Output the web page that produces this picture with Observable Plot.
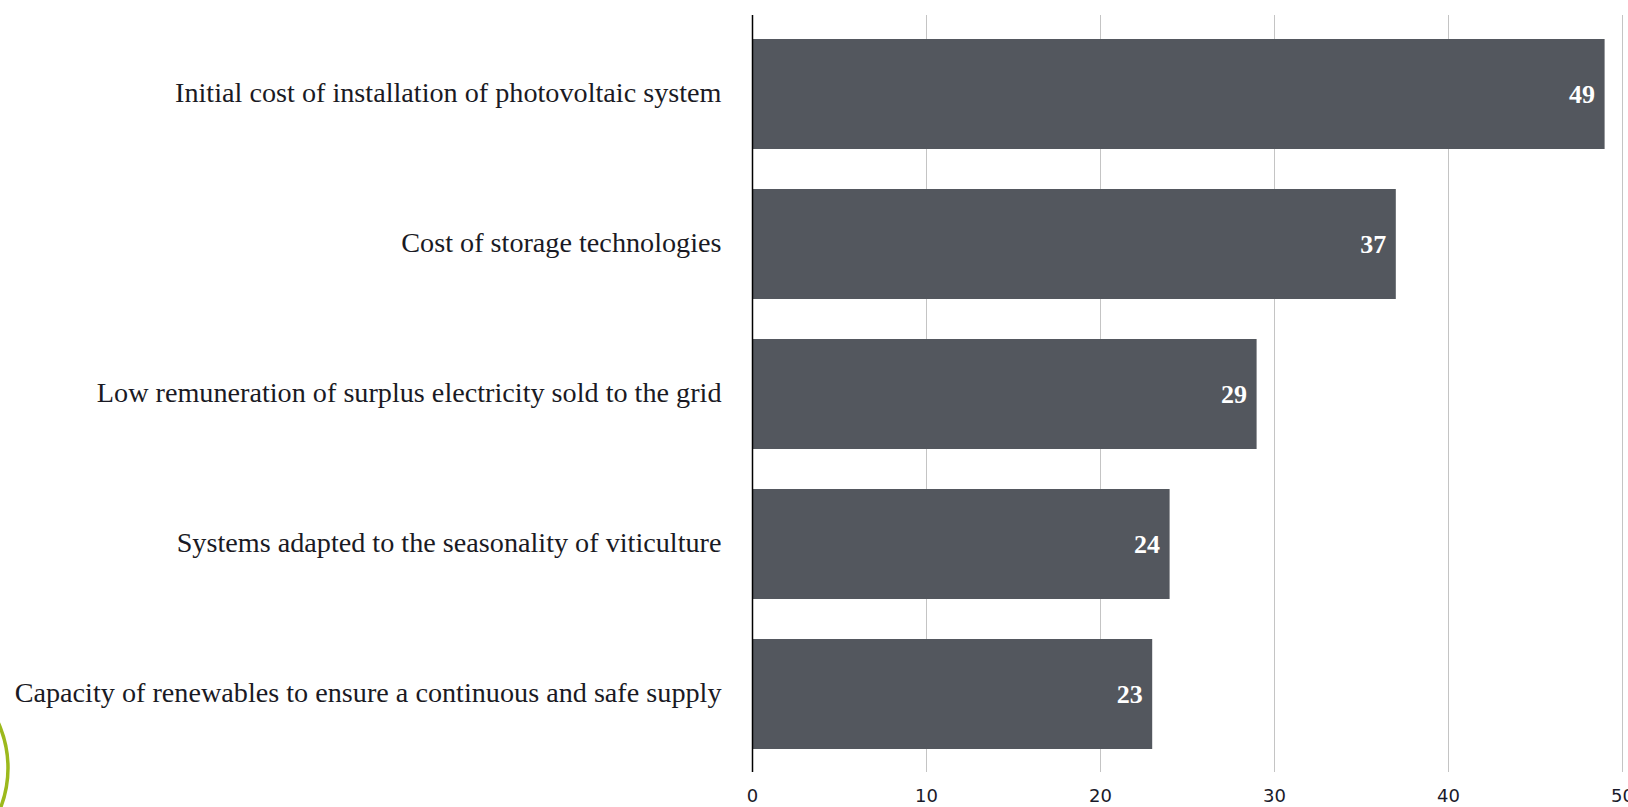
<!DOCTYPE html>
<html><head><meta charset="utf-8">
<script src="https://cdn.jsdelivr.net/npm/d3@7"></script>
<script src="https://cdn.jsdelivr.net/npm/@observablehq/plot@0.6"></script>
<style>
body{margin:0;background:#fff;overflow:hidden}
#chart{position:relative;width:1628px;height:807px}
#logo{position:absolute;left:0;top:0;pointer-events:none}
</style>
</head><body><div id="chart"></div>
<script>
const categories = [
  "Initial cost of installation of photovoltaic system",
  "Cost of storage technologies",
  "Low remuneration of surplus electricity sold to the grid",
  "Systems adapted to the seasonality of viticulture",
  "Capacity of renewables to ensure a continuous and safe supply"
];
const values = [49, 37, 29, 24, 23];
const xTicks = [0, 10, 20, 30, 40, 50];

const data = categories.map((c, i) => ({category: c, value: values[i]}));

const plot = Plot.plot({
  width: 1628, height: 807,
  marginLeft: 752, marginRight: 6, marginTop: 15, marginBottom: 35,
  style: {background: "#fff"},
  x: {domain: [0, 50], label: null},
  y: {domain: categories, paddingInner: 0.27, paddingOuter: 0.15, label: null},
  marks: [
    Plot.gridX(xTicks, {stroke: "#c4c4c4", strokeOpacity: 1, strokeWidth: 1}),
    Plot.barX(data, {x: "value", y: "category", fill: "#53575e"}),
    Plot.ruleX([0], {stroke: "#000", strokeWidth: 1.5}),
    Plot.text(data, {x: "value", y: "category", text: d => String(d.value), textAnchor: "end", dx: -10, fill: "#fff", fontWeight: "bold", fontSize: 26, fontFamily: "Liberation Serif"}),
    Plot.axisX({ticks: xTicks, tickSize: 0, tickPadding: 17, fontSize: 18, fontFamily: "DejaVu Sans", fill: "#1a1a2a", label: null}),
    Plot.axisY({tickSize: 0, tickPadding: 31, dy: -2, fontSize: 28.2, fontFamily: "Liberation Serif", fill: "#1a1a24", label: null})
  ]
});
document.getElementById("chart").appendChild(plot);

// decorative logo fragment at bottom-left
const logo = d3.select("#chart").append("svg").attr("id", "logo").attr("width", 1628).attr("height", 807);
logo.append("circle").attr("cx", -102).attr("cy", 768).attr("r", 110)
  .attr("fill", "none").attr("stroke", "#9cb91c").attr("stroke-width", 3.5);
</script>
</body></html>
